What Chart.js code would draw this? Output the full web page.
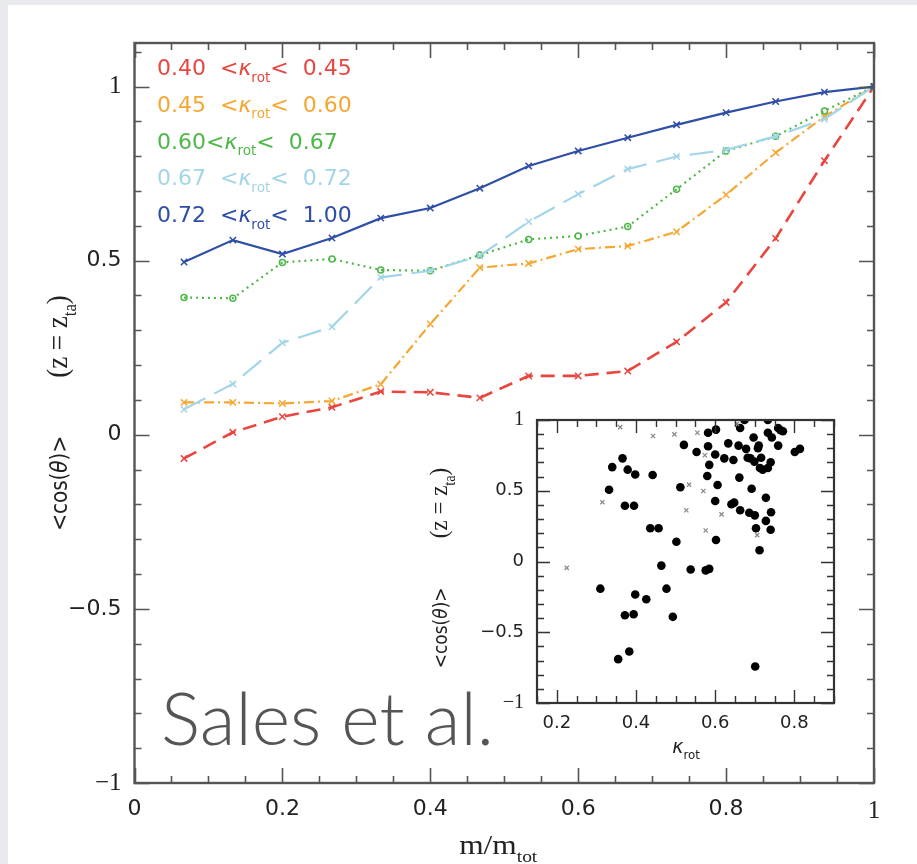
<!DOCTYPE html>
<html>
<head>
<meta charset="utf-8">
<script src="https://cdn.jsdelivr.net/npm/chart.js@4.4.1/dist/chart.umd.min.js"></script>
<style>
  html, body { margin: 0; padding: 0; background: #e9eaee; }
  #wrap { position: relative; width: 917px; height: 864px; }
  #mainChart { position: absolute; left: 0; top: 0; }
  #insetChart { position: absolute; left: 420px; top: 395px; }
</style>
</head>
<body>
<div id="wrap">
  <canvas id="mainChart" width="917" height="864"></canvas>
  <canvas id="insetChart" width="430" height="380"></canvas>
</div>
<script>
// main panel: <cos(theta)> vs enclosed mass fraction
const massFraction = [0.067, 0.133, 0.2, 0.267, 0.333, 0.4, 0.467, 0.533, 0.6, 0.667, 0.733, 0.8, 0.867, 0.933, 1.0];
const cosKappa040 = [-0.068, 0.007, 0.052, 0.079, 0.124, 0.122, 0.106, 0.169, 0.169, 0.183, 0.267, 0.380, 0.564, 0.787, 1.0];
const cosKappa045 = [0.093, 0.093, 0.090, 0.097, 0.145, 0.318, 0.480, 0.492, 0.533, 0.542, 0.583, 0.689, 0.810, 0.914, 1.0];
const cosKappa060 = [0.394, 0.392, 0.495, 0.505, 0.473, 0.471, 0.516, 0.561, 0.571, 0.598, 0.705, 0.815, 0.857, 0.930, 1.0];
const cosKappa067 = [0.073, 0.146, 0.264, 0.310, 0.452, 0.471, 0.514, 0.612, 0.691, 0.763, 0.799, 0.818, 0.857, 0.907, 1.0];
const cosKappa072 = [0.496, 0.559, 0.519, 0.565, 0.622, 0.651, 0.708, 0.772, 0.815, 0.853, 0.890, 0.925, 0.957, 0.984, 1.0];
const kappaLow = ['0.40  ', '0.45  ', '0.60', '0.67  ', '0.72  '];
const kappaHigh = ['  0.45', '  0.60', '  0.67', '  0.72', '  1.00'];
const mainXTicks = [0, 0.2, 0.4, 0.6, 0.8, 1];
const mainYTicks = [-1, -0.5, 0, 0.5, 1];

// inset: <cos(theta)> vs kappa_rot, one point per galaxy
const insetKappaDot = [0.521, 0.553, 0.582, 0.602, 0.582, 0.600, 0.585, 0.633, 0.623, 0.646, 0.663, 0.674, 0.659, 0.678,
  0.682, 0.697, 0.710, 0.699, 0.716, 0.733, 0.733, 0.743, 0.759, 0.771, 0.759, 0.801, 0.814, 0.713, 0.733, 0.740,
  0.580, 0.606, 0.661, 0.692, 0.648, 0.641, 0.600, 0.663, 0.686, 0.700, 0.728, 0.741, 0.728, 0.703, 0.740, 0.602,
  0.712, 0.701, 0.512, 0.502, 0.538, 0.576, 0.585, 0.464, 0.477, 0.493, 0.426, 0.398, 0.394, 0.372, 0.383, 0.355,
  0.310, 0.436, 0.457, 0.442, 0.398, 0.379, 0.366, 0.340, 0.332, 0.372, 0.395, 0.720, 0.689, 0.708, 0.765];
const insetCosDot = [0.824, 0.774, 0.910, 0.932, 0.814, 0.756, 0.683, 0.835, 0.729, 0.717, 0.943, 1.0, 0.819, 0.796,
  0.733, 0.876, 0.819, 0.706, 0.733, 1.0, 0.910, 0.876, 0.943, 0.921, 0.819, 0.774, 0.796, 0.661, 0.661, 0.701,
  0.604, 0.541, 0.593, 0.514, 0.416, 0.405, 0.428, 0.362, 0.344, 0.326, 0.450, 0.348, 0.287, 0.235, 0.224, 0.152,
  0.079, -0.742, 0.525, 0.140, -0.057, -0.063, -0.052, -0.029, -0.192, -0.391, -0.267, -0.233, -0.373, -0.380, -0.636, -0.690,
  -0.192, 0.235, 0.235, 0.611, 0.615, 0.649, 0.729, 0.667, 0.507, 0.394, 0.394, 0.649, 0.729, 0.801, 0.928];
const insetKappaCross = [0.360, 0.443, 0.497, 0.555, 0.574, 0.655, 0.534, 0.570, 0.527, 0.616, 0.576, 0.706, 0.315, 0.225];
const insetCosCross = [0.950, 0.887, 0.898, 0.910, 0.751, 0.973, 0.543, 0.498, 0.362, 0.333, 0.219, 0.186, 0.419, -0.045];
const insetXTicks = [0.2, 0.4, 0.6, 0.8];
const insetYTicks = [-1, -0.5, 0, 0.5, 1];

const seriesColors = ['#e8463f', '#f5a733', '#4db848', '#a3d5e8', '#2f4ea6'];
const SANS = '"DejaVu Sans", "Liberation Sans", sans-serif';
const SERIF = '"Liberation Serif", "Times New Roman", serif';

function toPoints(xs, ys) {
    return xs.map((x, i) => ({ x: x, y: ys[i] }));
}

function isMultiple(v, step) {
    const r = v / step;
    return Math.abs(r - Math.round(r)) < 1e-6;
}

function tickLabel(v) {
    return String(v).replace('-', '\u2212');
}

// "1" labels are set in a serif face in the original figure
function tickFont(size, serifSize) {
    return function(c) {
        const serif = c.tick && Math.abs(Math.abs(c.tick.value) - 1) < 1e-9;
        return serif ? { family: SERIF, size: serifSize } : { family: SANS, size: size };
    };
}

// box around the plot with inward ticks on all four sides
function frameTicks(o) {
    return {
        id: 'frameTicks',
        afterDatasetsDraw(chart) {
            const { ctx, chartArea: a, scales } = chart;
            const xs = scales.x, ys = scales.y;
            ctx.save();
            ctx.strokeStyle = o.color;
            ctx.lineWidth = o.width;
            ctx.beginPath();
            for (let i = 0; ; i++) {
                const v = o.xStart + i * o.xMinor;
                if (v > xs.max + 1e-9) break;
                if (v < xs.min - 1e-9) continue;
                const p = Math.round(xs.getPixelForValue(v)) + 0.5;
                const len = isMultiple(v, o.xMajor) ? o.majorLen : o.minorLen;
                ctx.moveTo(p, a.bottom); ctx.lineTo(p, a.bottom - len);
                ctx.moveTo(p, a.top); ctx.lineTo(p, a.top + len);
            }
            for (let i = 0; ; i++) {
                const v = ys.min + i * o.yMinor;
                if (v > ys.max + 1e-9) break;
                const p = Math.round(ys.getPixelForValue(v)) + 0.5;
                const len = isMultiple(v, o.yMajor) ? o.majorLen : o.minorLen;
                ctx.moveTo(a.left, p); ctx.lineTo(a.left + len, p);
                ctx.moveTo(a.right, p); ctx.lineTo(a.right - len, p);
            }
            ctx.stroke();
            ctx.lineWidth = o.frameWidth;
            ctx.strokeRect(a.left, a.top, a.right - a.left, a.bottom - a.top);
            ctx.restore();
        }
    };
}

// text pieces: {t, serif, italic, sub, rel} or {gap}; sub pieces are smaller and lowered
function pieceFont(p, base) {
    let s = base * (p.rel || 1);
    if (p.sub) s *= 0.62;
    return (p.italic ? 'italic ' : '') + s.toFixed(1) + 'px ' + (p.serif ? SERIF : SANS);
}

function piecesWidth(ctx, pieces, base) {
    let w = 0;
    pieces.forEach(p => {
        if (p.gap) { w += p.gap * base; return; }
        ctx.font = pieceFont(p, base);
        w += ctx.measureText(p.t).width;
    });
    return w;
}

function drawPieces(ctx, pieces, x, y, base) {
    pieces.forEach(p => {
        if (p.gap) { x += p.gap * base; return; }
        ctx.font = pieceFont(p, base);
        const drop = p.sub ? base * (p.rel || 1) * 0.3 : 0;
        ctx.fillText(p.t, x, y + drop);
        x += ctx.measureText(p.t).width;
    });
    return x;
}

// centred text, optionally rotated, with a little stretch to mimic the figure's fonts
function drawLabel(ctx, pieces, cx, baseY, base, rotate, stretchX, stretchY) {
    ctx.save();
    ctx.translate(cx, baseY);
    if (rotate) ctx.rotate(-Math.PI / 2);
    ctx.scale(stretchX, stretchY);
    const w = piecesWidth(ctx, pieces, base);
    drawPieces(ctx, pieces, -w / 2, 0, base);
    ctx.restore();
}

const cosTitle = [
    { t: '<cos(' }, { t: '\u03b8', italic: true }, { t: ')>' }, { gap: 2.9 },
    { t: '(z = z', serif: true, rel: 1.35 }, { t: 'ta', serif: true, sub: true, rel: 1.35 }, { t: ')', serif: true, rel: 1.35 }
];

document.addEventListener('DOMContentLoaded', function() {
    const lineStyles = [
        { dash: [14, 8], width: 2.6, point: 'crossRot' },
        { dash: [10, 4, 2, 4], width: 2.2, point: 'crossRot' },
        { dash: [2, 4], width: 2.2, point: 'circle' },
        { dash: [24, 10], width: 2.2, point: 'crossRot' },
        { dash: [], width: 2.2, point: 'crossRot' }
    ];
    const seriesValues = [cosKappa040, cosKappa045, cosKappa060, cosKappa067, cosKappa072];

    const datasets = seriesValues.map((vals, i) => ({
        label: kappaLow[i].trim() + ' < kappa_rot < ' + kappaHigh[i].trim(),
        data: toPoints(massFraction, vals),
        borderColor: seriesColors[i],
        backgroundColor: 'transparent',
        borderWidth: lineStyles[i].width,
        borderDash: lineStyles[i].dash,
        pointStyle: lineStyles[i].point,
        pointRadius: lineStyles[i].point === 'circle' ? 3 : 4.5,
        pointBorderWidth: 1.5,
        pointBorderColor: seriesColors[i],
        pointBackgroundColor: 'transparent',
        tension: 0,
        order: 4 - i
    }));

    const pageBackground = {
        id: 'pageBackground',
        beforeDraw(chart) {
            const ctx = chart.ctx;
            ctx.save();
            ctx.fillStyle = '#e9eaee';
            ctx.fillRect(0, 0, chart.width, chart.height);
            ctx.fillStyle = '#ffffff';
            ctx.fillRect(8, 5, chart.width - 8, chart.height - 5);
            ctx.restore();
        }
    };

    const mainText = {
        id: 'mainText',
        afterDraw(chart) {
            const ctx = chart.ctx;
            const a = chart.chartArea;
            ctx.save();
            ctx.textBaseline = 'alphabetic';
            // colour-coded kappa ranges
            kappaLow.forEach((lo, i) => {
                ctx.fillStyle = seriesColors[i];
                drawPieces(ctx, [
                    { t: lo + '<' }, { t: '\u03ba', italic: true }, { t: 'rot', sub: true }, { t: '<' + kappaHigh[i] }
                ], 157, 75 + i * 36.8, 22);
            });
            // axis titles
            ctx.fillStyle = '#222';
            drawLabel(ctx, [{ t: 'm/m', serif: true }, { t: 'tot', serif: true, sub: true }],
                (a.left + a.right) / 2 - 6, 854, 28, false, 1.12, 1);
            drawLabel(ctx, cosTitle, 67, 413, 20, true, 1, 1.12);
            // author note
            ctx.fillStyle = '#555';
            let size = 78;
            ctx.font = '300 ' + size + 'px Lato, "Open Sans", sans-serif';
            size = size * 333 / ctx.measureText('Sales et al.').width;
            ctx.font = '300 ' + size.toFixed(1) + 'px Lato, "Open Sans", sans-serif';
            ctx.fillText('Sales et al.', 161, 745);
            ctx.restore();
        }
    };

    new Chart(document.getElementById('mainChart'), {
        type: 'line',
        data: { datasets: datasets },
        options: {
            responsive: false,
            devicePixelRatio: 1,
            animation: false,
            layout: { padding: { left: 0, top: 43, right: 43, bottom: 0 } },
            plugins: { legend: { display: false }, tooltip: { enabled: false } },
            scales: {
                x: {
                    type: 'linear', min: 0, max: 1,
                    afterBuildTicks: s => { s.ticks = mainXTicks.map(v => ({ value: v })); },
                    afterFit: s => { s.height = 81; },
                    grid: { display: false, drawTicks: false },
                    border: { display: false },
                    ticks: { callback: tickLabel, color: '#222', padding: 13, maxRotation: 0, font: tickFont(22, 25) }
                },
                y: {
                    type: 'linear', min: -1, max: 1.125,
                    afterBuildTicks: s => { s.ticks = mainYTicks.map(v => ({ value: v })); },
                    afterFit: s => { s.width = 134.5; },
                    grid: { display: false, drawTicks: false },
                    border: { display: false },
                    ticks: { callback: tickLabel, color: '#222', padding: 13, font: tickFont(22, 25) }
                }
            }
        },
        plugins: [pageBackground, frameTicks({
            color: '#555', width: 1.6, frameWidth: 2.4, majorLen: 15, minorLen: 7,
            xStart: 0, xMinor: 0.05, xMajor: 0.2, yMinor: 0.1, yMajor: 0.5
        }), mainText]
    });

    const insetBackground = {
        id: 'insetBackground',
        beforeDatasetsDraw(chart) {
            const a = chart.chartArea;
            chart.ctx.save();
            chart.ctx.fillStyle = '#ffffff';
            chart.ctx.fillRect(a.left, a.top, a.right - a.left, a.bottom - a.top);
            chart.ctx.restore();
        }
    };

    const insetText = {
        id: 'insetText',
        afterDraw(chart) {
            const ctx = chart.ctx;
            ctx.save();
            ctx.fillStyle = '#222';
            ctx.textBaseline = 'alphabetic';
            drawLabel(ctx, [{ t: '\u03ba', italic: true }, { t: 'rot', sub: true }], 266, 358, 19, false, 1, 1);
            drawLabel(ctx, cosTitle, 27, 173, 17, true, 1, 1.12);
            ctx.restore();
        }
    };

    new Chart(document.getElementById('insetChart'), {
        type: 'scatter',
        data: {
            datasets: [{
                label: 'crosses',
                data: toPoints(insetKappaCross, insetCosCross),
                pointStyle: 'crossRot',
                pointRadius: 3,
                pointBorderWidth: 1.3,
                borderColor: '#8a8a8a',
                backgroundColor: '#8a8a8a'
            }, {
                label: 'galaxies',
                data: toPoints(insetKappaDot, insetCosDot),
                pointStyle: 'circle',
                pointRadius: 4.3,
                pointBorderWidth: 0,
                borderColor: '#000',
                backgroundColor: '#000'
            }]
        },
        options: {
            responsive: false,
            devicePixelRatio: 1,
            animation: false,
            layout: { padding: { left: 0, top: 12, right: 16, bottom: 0 } },
            plugins: { legend: { display: false }, tooltip: { enabled: false } },
            scales: {
                x: {
                    type: 'linear', min: 0.15, max: 0.9,
                    afterBuildTicks: s => { s.ticks = insetXTicks.map(v => ({ value: v })); },
                    afterFit: s => { s.height = 72; },
                    grid: { display: false, drawTicks: false },
                    border: { display: false },
                    ticks: { callback: tickLabel, color: '#222', padding: 10, maxRotation: 0, font: tickFont(18, 20) }
                },
                y: {
                    type: 'linear', min: -1, max: 1,
                    afterBuildTicks: s => { s.ticks = insetYTicks.map(v => ({ value: v })); },
                    afterFit: s => { s.width = 117; },
                    grid: { display: false, drawTicks: false },
                    border: { display: false },
                    ticks: { callback: tickLabel, color: '#222', padding: 13, font: tickFont(18, 20) }
                }
            }
        },
        plugins: [insetBackground, frameTicks({
            color: '#333', width: 1.4, frameWidth: 2.2, majorLen: 13, minorLen: 7,
            xStart: 0, xMinor: 0.05, xMajor: 0.2, yMinor: 0.1, yMajor: 0.5
        }), insetText]
    });
});
</script>
</body>
</html>
